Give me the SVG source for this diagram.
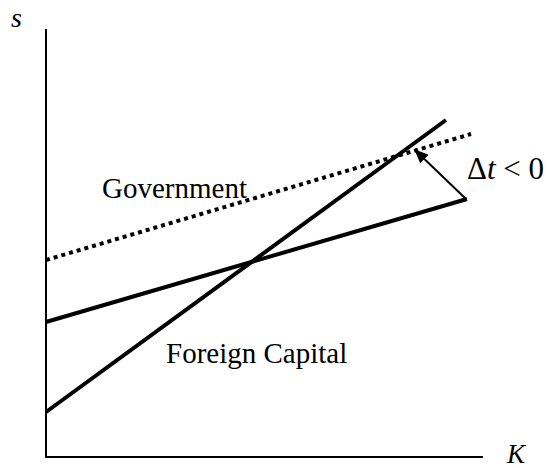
<svg xmlns="http://www.w3.org/2000/svg" width="550" height="468" viewBox="0 0 550 468">
<style>
text{font-family:"Liberation Serif","Times New Roman",serif;fill:#000}
.ax{stroke:#000;stroke-width:2;fill:none}
.ln{stroke:#000;stroke-width:4;fill:none}
.dt{stroke:#000;stroke-width:4;fill:none;stroke-dasharray:4 4}
.ar{stroke:#000;stroke-width:2;fill:none}
</style>
<defs>
<marker id="ah" markerWidth="14" markerHeight="12" refX="13" refY="6" orient="auto" markerUnits="userSpaceOnUse" viewBox="0 0 14 12">
<path d="M0,0 L14,6 L0,12 z" fill="#000"/>
</marker>
</defs>
<g id="connectors">
<line id="yaxis" class="ax" x1="46" y1="29" x2="46" y2="458"/>
<line id="xaxis" class="ax" x1="45" y1="457" x2="483" y2="457"/>
<line id="government-line" class="dt" x1="46" y1="260" x2="471" y2="134"/>
<line id="foreign-line" class="ln" x1="46" y1="322" x2="467" y2="199"/>
<line id="steep-line" class="ln" x1="46" y1="412" x2="446" y2="120"/>
<line id="shift-arrow" class="ar" x1="466" y1="199" x2="415" y2="150" marker-end="url(#ah)"/>
</g>
<g id="label-s"><text x="11" y="27" font-size="28" font-style="italic">s</text></g>
<g id="label-K"><text x="507" y="463" font-size="27" font-style="italic">K</text></g>
<g id="label-government"><text x="102" y="198" font-size="29">Government</text></g>
<g id="label-foreign"><text x="166" y="363" font-size="29">Foreign Capital</text></g>
<g id="label-delta"><text x="467" y="179" font-size="31">Δ<tspan font-style="italic">t</tspan> &lt; 0</text></g>
</svg>
